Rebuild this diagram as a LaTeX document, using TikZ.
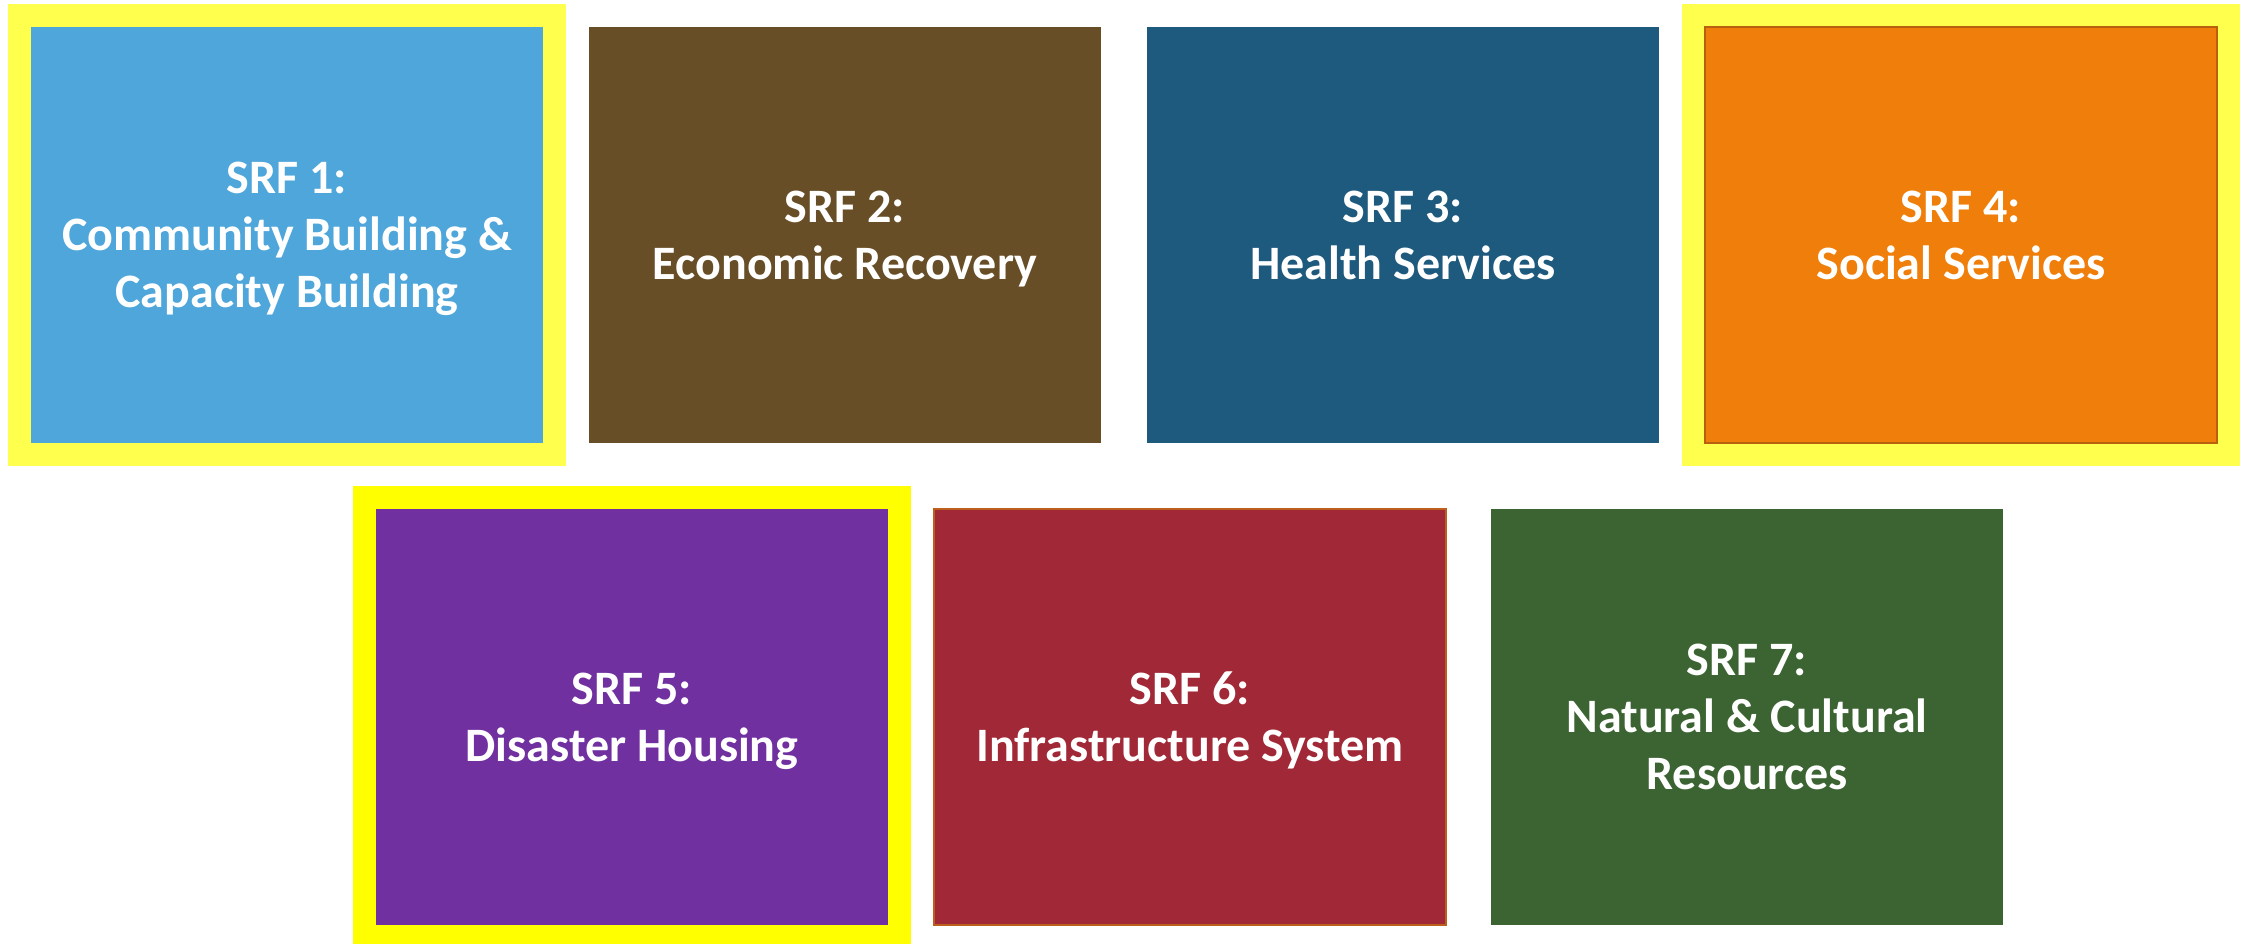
\documentclass[tikz,border=0pt]{standalone}
\usepackage{fontspec}
\setmainfont{Carlito}
\newcommand\nodp[1]{\raisebox{0pt}[\height][0pt]{#1}}
\definecolor{srfA}{HTML}{4EA6DA}
\definecolor{srfB}{HTML}{674E27}
\definecolor{srfC}{HTML}{1E5A7E}
\definecolor{srfD}{HTML}{EF7F0A}
\definecolor{srfDedge}{HTML}{B9600E}
\definecolor{srfE}{HTML}{7030A0}
\definecolor{srfF}{HTML}{A12937}
\definecolor{srfFedge}{HTML}{BC5E1C}
\definecolor{srfG}{HTML}{3C6432}
\definecolor{hlsoft}{HTML}{FFFF4D}
\definecolor{hlpure}{HTML}{FFFF00}
\begin{document}
\begin{tikzpicture}[x=1pt,y=1pt,
  srfbox/.style={rectangle, minimum width=512pt, minimum height=416pt, inner sep=0pt,
    align=center, text=white, font=\fontsize{48}{57}\selectfont\bfseries},
  hlframe/.style={rectangle, minimum width=558pt, minimum height=462pt, inner sep=0pt}]
\useasboundingbox (0,0) rectangle (2242,943);
\path[fill=white] (0,0) rectangle (2242,943);
% highlight frames
\node[hlframe, fill=hlsoft] (f1) at (287,708) {};
\node[hlframe, fill=hlsoft] (f4) at (1961,708) {};
\node[hlframe, fill=hlpure] (f5) at (632,226) {};
% row 1
\node[srfbox, fill=srfA] (n1) at (287,708) {SRF 1:\\Community Building \&\\\nodp{Capacity Building}};
\node[srfbox, fill=srfB] (n2) at (845,708) {SRF 2:\\\nodp{Economic Recovery}};
\node[srfbox, fill=srfC] (n3) at (1403,708) {SRF 3:\\\nodp{Health Services}};
\node[srfbox, fill=srfD, draw=srfDedge, line width=2pt] (n4) at (1961,708) {SRF 4:\\\nodp{Social Services}};
% row 2
\node[srfbox, fill=srfE] (n5) at (632,226) {SRF 5:\\\nodp{Disaster Housing}};
\node[srfbox, fill=srfF, draw=srfFedge, line width=2pt] (n6) at (1190,226) {SRF 6:\\\nodp{Infrastructure System}};
\node[srfbox, fill=srfG] (n7) at (1747,226) {SRF 7:\\Natural \& Cultural\\\nodp{Resources}};
\end{tikzpicture}
\end{document}
